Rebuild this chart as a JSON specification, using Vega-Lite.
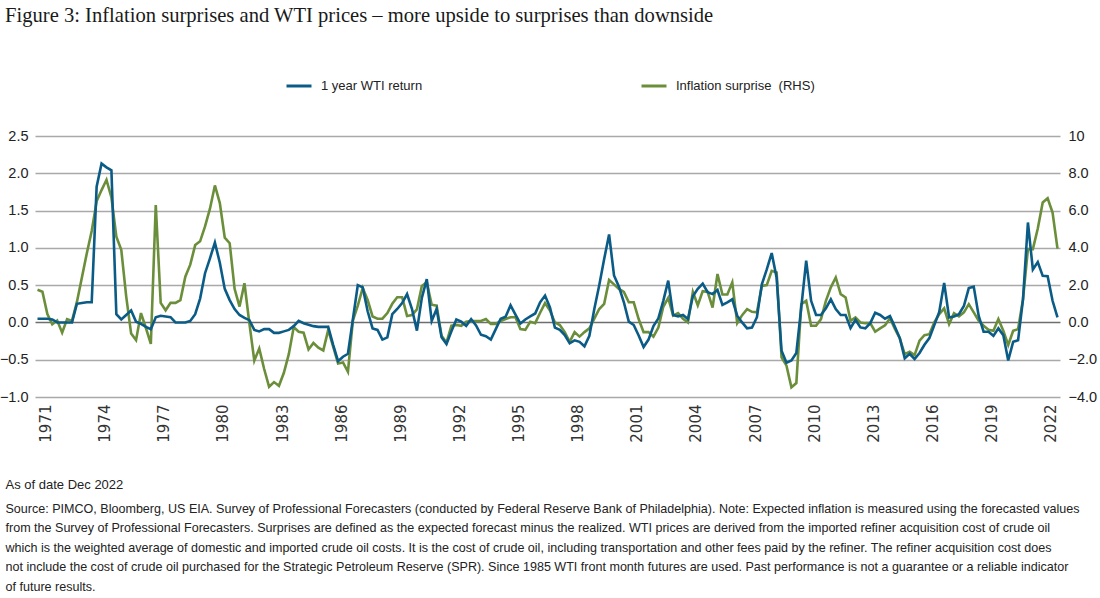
{
"$schema": "https://vega.github.io/schema/vega-lite/v6.json",
"width": 1025, "height": 261,
"autosize": {"type": "none"},
"padding": {"left": 35, "top": 136, "right": 40, "bottom": 201},
"background": "white",
"config": {"view": {"stroke": null}},
"title": {"text": "Figure 3: Inflation surprises and WTI prices \u2013 more upside to surprises than downside", "anchor": "start", "frame": "group", "font": "Liberation Serif", "fontSize": 20.6, "fontWeight": "normal", "color": "#1a1a1a", "dx": -30, "offset": 45},
"data": {"values": [
{"year":1971,"wti_return":0.05,"inflation_surprise":1.75},{"year":1971.25,"wti_return":0.05,"inflation_surprise":1.65},{"year":1971.5,"wti_return":0.05,"inflation_surprise":0.45},{"year":1971.75,"wti_return":0.04,"inflation_surprise":-0.1},
{"year":1972,"wti_return":0,"inflation_surprise":0.1},{"year":1972.25,"wti_return":0,"inflation_surprise":-0.55},{"year":1972.5,"wti_return":0,"inflation_surprise":0.18},{"year":1972.75,"wti_return":0,"inflation_surprise":0.08},
{"year":1973,"wti_return":0.25,"inflation_surprise":1.1},{"year":1973.25,"wti_return":0.26,"inflation_surprise":2.4},{"year":1973.5,"wti_return":0.27,"inflation_surprise":3.7},{"year":1973.75,"wti_return":0.27,"inflation_surprise":4.9},
{"year":1974,"wti_return":1.82,"inflation_surprise":6.5},{"year":1974.25,"wti_return":2.13,"inflation_surprise":7.1},{"year":1974.5,"wti_return":2.08,"inflation_surprise":7.65},{"year":1974.75,"wti_return":2.04,"inflation_surprise":6.7},
{"year":1975,"wti_return":0.11,"inflation_surprise":4.6},{"year":1975.25,"wti_return":0.04,"inflation_surprise":3.9},{"year":1975.5,"wti_return":0.1,"inflation_surprise":1.4},{"year":1975.75,"wti_return":0.16,"inflation_surprise":-0.6},
{"year":1976,"wti_return":0.01,"inflation_surprise":-0.95},{"year":1976.25,"wti_return":-0.02,"inflation_surprise":0.5},{"year":1976.5,"wti_return":-0.06,"inflation_surprise":-0.3},{"year":1976.75,"wti_return":-0.09,"inflation_surprise":-1.15},
{"year":1977,"wti_return":0.07,"inflation_surprise":6.3},{"year":1977.25,"wti_return":0.09,"inflation_surprise":1.05},{"year":1977.5,"wti_return":0.08,"inflation_surprise":0.65},{"year":1977.75,"wti_return":0.07,"inflation_surprise":1.05},
{"year":1978,"wti_return":0,"inflation_surprise":1.05},{"year":1978.25,"wti_return":0,"inflation_surprise":1.2},{"year":1978.5,"wti_return":0,"inflation_surprise":2.45},{"year":1978.75,"wti_return":0.02,"inflation_surprise":3.1},
{"year":1979,"wti_return":0.11,"inflation_surprise":4.15},{"year":1979.25,"wti_return":0.32,"inflation_surprise":4.35},{"year":1979.5,"wti_return":0.66,"inflation_surprise":5.15},{"year":1979.75,"wti_return":0.86,"inflation_surprise":6.1},
{"year":1980,"wti_return":1.07,"inflation_surprise":7.35},{"year":1980.25,"wti_return":0.8,"inflation_surprise":6.4},{"year":1980.5,"wti_return":0.45,"inflation_surprise":4.55},{"year":1980.75,"wti_return":0.3,"inflation_surprise":4.25},
{"year":1981,"wti_return":0.18,"inflation_surprise":1.8},{"year":1981.25,"wti_return":0.1,"inflation_surprise":0.85},{"year":1981.5,"wti_return":0.06,"inflation_surprise":2.1},{"year":1981.75,"wti_return":0.03,"inflation_surprise":-0.05},
{"year":1982,"wti_return":-0.1,"inflation_surprise":-2.05},{"year":1982.25,"wti_return":-0.12,"inflation_surprise":-1.4},{"year":1982.5,"wti_return":-0.09,"inflation_surprise":-2.5},{"year":1982.75,"wti_return":-0.09,"inflation_surprise":-3.45},
{"year":1983,"wti_return":-0.14,"inflation_surprise":-3.2},{"year":1983.25,"wti_return":-0.14,"inflation_surprise":-3.4},{"year":1983.5,"wti_return":-0.12,"inflation_surprise":-2.7},{"year":1983.75,"wti_return":-0.1,"inflation_surprise":-1.7},
{"year":1984,"wti_return":-0.05,"inflation_surprise":-0.25},{"year":1984.25,"wti_return":0.02,"inflation_surprise":-0.5},{"year":1984.5,"wti_return":-0.01,"inflation_surprise":-0.55},{"year":1984.75,"wti_return":-0.03,"inflation_surprise":-1.45},
{"year":1985,"wti_return":-0.05,"inflation_surprise":-1.1},{"year":1985.25,"wti_return":-0.06,"inflation_surprise":-1.35},{"year":1985.5,"wti_return":-0.06,"inflation_surprise":-1.5},{"year":1985.75,"wti_return":-0.06,"inflation_surprise":-0.4},
{"year":1986,"wti_return":-0.3,"inflation_surprise":-1.3},{"year":1986.25,"wti_return":-0.52,"inflation_surprise":-2.2},{"year":1986.5,"wti_return":-0.46,"inflation_surprise":-2.15},{"year":1986.75,"wti_return":-0.42,"inflation_surprise":-2.65},
{"year":1987,"wti_return":0.04,"inflation_surprise":0.1},{"year":1987.25,"wti_return":0.5,"inflation_surprise":0.9},{"year":1987.5,"wti_return":0.47,"inflation_surprise":1.85},{"year":1987.75,"wti_return":0.15,"inflation_surprise":1.2},
{"year":1988,"wti_return":-0.08,"inflation_surprise":0.32},{"year":1988.25,"wti_return":-0.1,"inflation_surprise":0.2},{"year":1988.5,"wti_return":-0.23,"inflation_surprise":0.2},{"year":1988.75,"wti_return":-0.2,"inflation_surprise":0.5},
{"year":1989,"wti_return":0.11,"inflation_surprise":1.0},{"year":1989.25,"wti_return":0.18,"inflation_surprise":1.35},{"year":1989.5,"wti_return":0.26,"inflation_surprise":1.35},{"year":1989.75,"wti_return":0.38,"inflation_surprise":0.35},
{"year":1990,"wti_return":0.18,"inflation_surprise":0.4},{"year":1990.25,"wti_return":-0.11,"inflation_surprise":0.7},{"year":1990.5,"wti_return":0.33,"inflation_surprise":1.95},{"year":1990.75,"wti_return":0.58,"inflation_surprise":2.15},
{"year":1991,"wti_return":0.02,"inflation_surprise":0.95},{"year":1991.25,"wti_return":0.18,"inflation_surprise":0.9},{"year":1991.5,"wti_return":-0.2,"inflation_surprise":-0.72},{"year":1991.75,"wti_return":-0.29,"inflation_surprise":-1.08},
{"year":1992,"wti_return":-0.12,"inflation_surprise":-0.18},{"year":1992.25,"wti_return":0.04,"inflation_surprise":-0.14},{"year":1992.5,"wti_return":0.01,"inflation_surprise":-0.18},{"year":1992.75,"wti_return":-0.045,"inflation_surprise":0.04},
{"year":1993,"wti_return":0.045,"inflation_surprise":0.08},{"year":1993.25,"wti_return":-0.04,"inflation_surprise":0.08},{"year":1993.5,"wti_return":-0.165,"inflation_surprise":0.08},{"year":1993.75,"wti_return":-0.185,"inflation_surprise":0.18},
{"year":1994,"wti_return":-0.23,"inflation_surprise":-0.08},{"year":1994.25,"wti_return":-0.09,"inflation_surprise":-0.08},{"year":1994.5,"wti_return":0.05,"inflation_surprise":0.08},{"year":1994.75,"wti_return":0.075,"inflation_surprise":0.18},
{"year":1995,"wti_return":0.23,"inflation_surprise":0.28},{"year":1995.25,"wti_return":0.105,"inflation_surprise":0.28},{"year":1995.5,"wti_return":-0.015,"inflation_surprise":-0.36},{"year":1995.75,"wti_return":0.04,"inflation_surprise":-0.4},
{"year":1996,"wti_return":0.08,"inflation_surprise":0.04},{"year":1996.25,"wti_return":0.12,"inflation_surprise":-0.04},{"year":1996.5,"wti_return":0.27,"inflation_surprise":0.52},{"year":1996.75,"wti_return":0.36,"inflation_surprise":1.04},
{"year":1997,"wti_return":0.2,"inflation_surprise":0.64},{"year":1997.25,"wti_return":-0.07,"inflation_surprise":0.0},{"year":1997.5,"wti_return":-0.1,"inflation_surprise":-0.14},{"year":1997.75,"wti_return":-0.17,"inflation_surprise":-0.52},
{"year":1998,"wti_return":-0.28,"inflation_surprise":-1.04},{"year":1998.25,"wti_return":-0.24,"inflation_surprise":-0.52},{"year":1998.5,"wti_return":-0.26,"inflation_surprise":-0.76},{"year":1998.75,"wti_return":-0.32,"inflation_surprise":-0.52},
{"year":1999,"wti_return":-0.18,"inflation_surprise":-0.32},{"year":1999.25,"wti_return":0.18,"inflation_surprise":0.2},{"year":1999.5,"wti_return":0.5,"inflation_surprise":0.72},{"year":1999.75,"wti_return":0.85,"inflation_surprise":1.0},
{"year":2000,"wti_return":1.18,"inflation_surprise":2.28},{"year":2000.25,"wti_return":0.63,"inflation_surprise":2.04},{"year":2000.5,"wti_return":0.48,"inflation_surprise":1.8},{"year":2000.75,"wti_return":0.27,"inflation_surprise":1.64},
{"year":2001,"wti_return":0.01,"inflation_surprise":1.08},{"year":2001.25,"wti_return":-0.035,"inflation_surprise":1.08},{"year":2001.5,"wti_return":-0.175,"inflation_surprise":0.18},{"year":2001.75,"wti_return":-0.33,"inflation_surprise":-0.52},
{"year":2002,"wti_return":-0.23,"inflation_surprise":-0.52},{"year":2002.25,"wti_return":-0.05,"inflation_surprise":-0.76},{"year":2002.5,"wti_return":0.055,"inflation_surprise":-0.28},{"year":2002.75,"wti_return":0.29,"inflation_surprise":0.84},
{"year":2003,"wti_return":0.56,"inflation_surprise":1.32},{"year":2003.25,"wti_return":0.1,"inflation_surprise":0.36},{"year":2003.5,"wti_return":0.08,"inflation_surprise":0.5},{"year":2003.75,"wti_return":0.1,"inflation_surprise":0.2},
{"year":2004,"wti_return":0.045,"inflation_surprise":0.0},{"year":2004.25,"wti_return":0.35,"inflation_surprise":1.64},{"year":2004.5,"wti_return":0.45,"inflation_surprise":0.92},{"year":2004.75,"wti_return":0.52,"inflation_surprise":1.68},
{"year":2005,"wti_return":0.405,"inflation_surprise":1.64},{"year":2005.25,"wti_return":0.38,"inflation_surprise":0.8},{"year":2005.5,"wti_return":0.435,"inflation_surprise":2.6},{"year":2005.75,"wti_return":0.235,"inflation_surprise":1.5},
{"year":2006,"wti_return":0.27,"inflation_surprise":1.5},{"year":2006.25,"wti_return":0.31,"inflation_surprise":2.15},{"year":2006.5,"wti_return":0.09,"inflation_surprise":-0.04},{"year":2006.75,"wti_return":0.0,"inflation_surprise":0.39},
{"year":2007,"wti_return":-0.08,"inflation_surprise":0.71},{"year":2007.25,"wti_return":-0.07,"inflation_surprise":0.57},{"year":2007.5,"wti_return":0.07,"inflation_surprise":0.54},{"year":2007.75,"wti_return":0.51,"inflation_surprise":1.96},
{"year":2008,"wti_return":0.71,"inflation_surprise":2.0},{"year":2008.25,"wti_return":0.93,"inflation_surprise":2.77},{"year":2008.5,"wti_return":0.6,"inflation_surprise":2.68},{"year":2008.75,"wti_return":-0.38,"inflation_surprise":-1.88},
{"year":2009,"wti_return":-0.54,"inflation_surprise":-2.32},{"year":2009.25,"wti_return":-0.51,"inflation_surprise":-3.48},{"year":2009.5,"wti_return":-0.41,"inflation_surprise":-3.25},{"year":2009.75,"wti_return":0.2,"inflation_surprise":0.98},
{"year":2010,"wti_return":0.83,"inflation_surprise":1.16},{"year":2010.25,"wti_return":0.29,"inflation_surprise":-0.18},{"year":2010.5,"wti_return":0.1,"inflation_surprise":-0.18},{"year":2010.75,"wti_return":0.1,"inflation_surprise":0.18},
{"year":2011,"wti_return":0.19,"inflation_surprise":1.16},{"year":2011.25,"wti_return":0.31,"inflation_surprise":1.88},{"year":2011.5,"wti_return":0.18,"inflation_surprise":2.41},{"year":2011.75,"wti_return":0.1,"inflation_surprise":1.52},
{"year":2012,"wti_return":0.1,"inflation_surprise":1.34},{"year":2012.25,"wti_return":-0.076,"inflation_surprise":0.09},{"year":2012.5,"wti_return":0.036,"inflation_surprise":0.27},{"year":2012.75,"wti_return":-0.067,"inflation_surprise":0.0},
{"year":2013,"wti_return":-0.08,"inflation_surprise":-0.04},{"year":2013.25,"wti_return":-0.01,"inflation_surprise":-0.04},{"year":2013.5,"wti_return":0.13,"inflation_surprise":-0.5},{"year":2013.75,"wti_return":0.1,"inflation_surprise":-0.32},
{"year":2014,"wti_return":0.05,"inflation_surprise":-0.15},{"year":2014.25,"wti_return":0.085,"inflation_surprise":0.22},{"year":2014.5,"wti_return":-0.06,"inflation_surprise":-0.35},{"year":2014.75,"wti_return":-0.21,"inflation_surprise":-0.86},
{"year":2015,"wti_return":-0.48,"inflation_surprise":-1.7},{"year":2015.25,"wti_return":-0.42,"inflation_surprise":-1.57},{"year":2015.5,"wti_return":-0.49,"inflation_surprise":-1.75},{"year":2015.75,"wti_return":-0.41,"inflation_surprise":-0.98},
{"year":2016,"wti_return":-0.3,"inflation_surprise":-0.68},{"year":2016.25,"wti_return":-0.21,"inflation_surprise":-0.63},{"year":2016.5,"wti_return":-0.036,"inflation_surprise":0.0},{"year":2016.75,"wti_return":0.14,"inflation_surprise":0.45},
{"year":2017,"wti_return":0.53,"inflation_surprise":0.75},{"year":2017.25,"wti_return":0.067,"inflation_surprise":-0.09},{"year":2017.5,"wti_return":0.08,"inflation_surprise":0.5},{"year":2017.75,"wti_return":0.11,"inflation_surprise":0.32},
{"year":2018,"wti_return":0.22,"inflation_surprise":0.54},{"year":2018.25,"wti_return":0.46,"inflation_surprise":0.98},{"year":2018.5,"wti_return":0.48,"inflation_surprise":0.54},{"year":2018.75,"wti_return":0.09,"inflation_surprise":0.09},
{"year":2019,"wti_return":-0.125,"inflation_surprise":-0.18},{"year":2019.25,"wti_return":-0.125,"inflation_surprise":-0.39},{"year":2019.5,"wti_return":-0.18,"inflation_surprise":-0.45},{"year":2019.75,"wti_return":-0.08,"inflation_surprise":0.18},
{"year":2020,"wti_return":-0.17,"inflation_surprise":-0.45},{"year":2020.25,"wti_return":-0.51,"inflation_surprise":-1.21},{"year":2020.5,"wti_return":-0.26,"inflation_surprise":-0.45},{"year":2020.75,"wti_return":-0.24,"inflation_surprise":-0.36},
{"year":2021,"wti_return":0.31,"inflation_surprise":1.25},{"year":2021.25,"wti_return":1.34,"inflation_surprise":3.93},{"year":2021.5,"wti_return":0.71,"inflation_surprise":3.93},{"year":2021.75,"wti_return":0.81,"inflation_surprise":5.04},
{"year":2022,"wti_return":0.625,"inflation_surprise":6.43},{"year":2022.25,"wti_return":0.62,"inflation_surprise":6.66},{"year":2022.5,"wti_return":0.29,"inflation_surprise":5.89},{"year":2022.75,"wti_return":0.067,"inflation_surprise":3.96}
]},
"encoding": {
  "x": {"field": "year", "type": "quantitative",
    "scale": {"domain": [1970.873, 2022.877], "nice": false, "zero": false},
    "axis": {"values": [1971,1974,1977,1980,1983,1986,1989,1992,1995,1998,2001,2004,2007,2010,2013,2016,2019,2022],
      "format": "d", "labelAngle": -90, "labelOffset": 8, "domain": false, "ticks": false, "grid": false,
      "labelPadding": 7, "labelFont": "DejaVu Sans", "labelFontSize": 15, "labelColor": "#333333",
      "labelOverlap": false, "labelFlush": false,
      "title": ["Source: PIMCO, Bloomberg, US EIA. Survey of Professional Forecasters (conducted by Federal Reserve Bank of Philadelphia). Note: Expected inflation is measured using the forecasted values",
        "from the Survey of Professional Forecasters. Surprises are defined as the expected forecast minus the realized. WTI prices are derived from the imported refiner acquisition cost of crude oil",
        "which is the weighted average of domestic and imported crude oil costs. It is the cost of crude oil, including transportation and other fees paid by the refiner. The refiner acquisition cost does",
        "not include the cost of crude oil purchased for the Strategic Petroleum Reserve (SPR). Since 1985 WTI front month futures are used. Past performance is not a guarantee or a reliable indicator",
        "of future results."],
      "titleFont": "Liberation Sans", "titleFontSize": 12.55, "titleFontWeight": "normal", "titleColor": "#222222",
      "titleAnchor": "start", "titleAlign": "left", "titleBaseline": "alphabetic", "titleX": -30, "titleY": 115, "titleLineHeight": 19.6}
  }
},
"layer": [
  {"mark": {"type": "line", "strokeWidth": 2.6},
   "encoding": {
     "y": {"field": "inflation_surprise", "type": "quantitative",
       "scale": {"domain": [-4, 10], "nice": false, "zero": false},
       "axis": {"orient": "right", "values": [-4,-2,0,2,4,6,8,10],
         "labelExpr": "datum.value == 10 ? '10' : format(datum.value, '.1f')",
         "domain": false, "ticks": false, "grid": false, "labelPadding": 8,
         "labelFont": "Liberation Sans", "labelFontSize": 14.5, "labelColor": "#222222", "title": null}},
     "color": {"datum": "Inflation surprise\u00a0 (RHS)", "type": "nominal"}
   }},
  {"mark": {"type": "line", "strokeWidth": 2.6},
   "encoding": {
     "y": {"field": "wti_return", "type": "quantitative",
       "scale": {"domain": [-1, 2.5], "nice": false, "zero": false},
       "axis": {"orient": "left", "values": [-1,-0.5,0,0.5,1,1.5,2,2.5], "format": ".1f",
         "domain": false, "ticks": false, "labelPadding": 7,
         "labelFont": "Liberation Sans", "labelFontSize": 14.5, "labelColor": "#222222",
         "grid": true, "gridColor": {"condition": {"test": "datum.value === 0", "value": "#6e6e6e"}, "value": "#a9a9a9"}, "gridWidth": 1.3,
         "title": "As of date Dec 2022", "titleAngle": 0, "titleAlign": "left", "titleBaseline": "alphabetic",
         "titleX": -30, "titleY": 352, "titleFont": "Liberation Sans", "titleFontSize": 13,
         "titleFontWeight": "normal", "titleColor": "#222222"}},
     "color": {"datum": "1 year WTI return", "type": "nominal",
       "scale": {"domain": ["1 year WTI return", "Inflation surprise\u00a0 (RHS)"], "range": ["#0b5b87", "#6b8e3b"]},
       "legend": {"title": null, "orient": "none", "legendX": 250, "legendY": -64, "direction": "horizontal",
         "symbolType": "stroke", "symbolSize": 625, "symbolStrokeWidth": 3, "padding": 0,
         "labelFont": "Liberation Sans", "labelFontSize": 13, "labelColor": "#222222",
         "columnPadding": 212, "labelOffset": 8, "labelLimit": 300}}
   }}
],
"resolve": {"scale": {"y": "independent"}}
}
